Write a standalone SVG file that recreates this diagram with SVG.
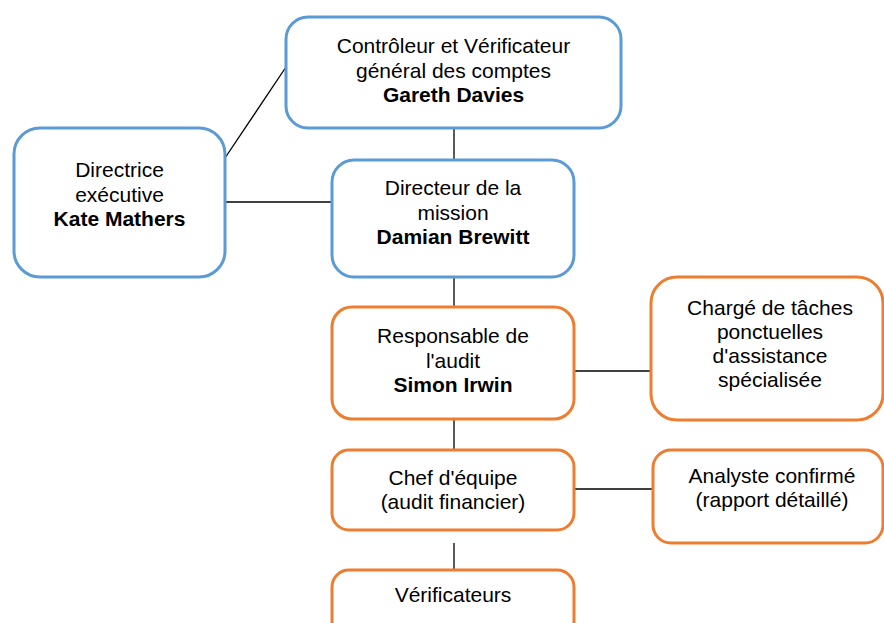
<svg xmlns="http://www.w3.org/2000/svg" width="884" height="623" viewBox="0 0 884 623">
<style>
.b{fill:#fff;stroke:#5B9BD5;stroke-width:3}
.o{fill:#fff;stroke:#ED7D31;stroke-width:3}
text{font-family:"Liberation Sans",Arial,sans-serif;font-size:21px;fill:#000;text-anchor:middle}
.bd{font-weight:bold}
.c line{stroke:#000;stroke-width:1.3}
</style>
<rect width="884" height="623" fill="#fff"/>
<g class="c" id="connectors">
<line x1="454" y1="128" x2="454" y2="160"/>
<line x1="225" y1="158" x2="286" y2="67"/>
<line x1="225" y1="202" x2="332" y2="202"/>
<line x1="454" y1="277" x2="454" y2="307"/>
<line x1="574" y1="371" x2="651" y2="371"/>
<line x1="454" y1="419" x2="454" y2="450"/>
<line x1="574" y1="489" x2="653" y2="489"/>
<line x1="454" y1="543" x2="454" y2="570"/>
</g>
<g id="controleur">
<rect class="b" x="286" y="17" width="335" height="111" rx="22"/>
<text x="453.5" y="53">Contrôleur et Vérificateur</text>
<text x="453.5" y="77.5">général des comptes</text>
<text x="453.5" y="102" class="bd">Gareth Davies</text>
</g>
<g id="directrice">
<rect class="b" x="14" y="128" width="211" height="149" rx="26"/>
<text x="119.5" y="177">Directrice</text>
<text x="119.5" y="201.5">exécutive</text>
<text x="119.5" y="226" class="bd">Kate Mathers</text>
</g>
<g id="directeur">
<rect class="b" x="332" y="160" width="242" height="117" rx="22"/>
<text x="453" y="195">Directeur de la</text>
<text x="453" y="219.5">mission</text>
<text x="453" y="244" class="bd">Damian Brewitt</text>
</g>
<g id="responsable">
<rect class="o" x="332" y="307" width="242" height="112" rx="20"/>
<text x="453" y="343">Responsable de</text>
<text x="453" y="367.5">l'audit</text>
<text x="453" y="392" class="bd">Simon Irwin</text>
</g>
<g id="charge">
<rect class="o" x="651" y="277" width="232" height="143" rx="26"/>
<text x="770" y="315">Chargé de tâches</text>
<text x="770" y="339">ponctuelles</text>
<text x="770" y="363">d'assistance</text>
<text x="770" y="387">spécialisée</text>
</g>
<g id="chef">
<rect class="o" x="332" y="450" width="242" height="80" rx="17"/>
<text x="453" y="485">Chef d'équipe</text>
<text x="453" y="509">(audit financier)</text>
</g>
<g id="analyste">
<rect class="o" x="653" y="450" width="230" height="93" rx="18"/>
<text x="772" y="483">Analyste confirmé</text>
<text x="772" y="507">(rapport détaillé)</text>
</g>
<g id="verificateurs">
<rect class="o" x="332" y="570" width="242" height="80" rx="17"/>
<text x="453" y="602">Vérificateurs</text>
</g>
</svg>
